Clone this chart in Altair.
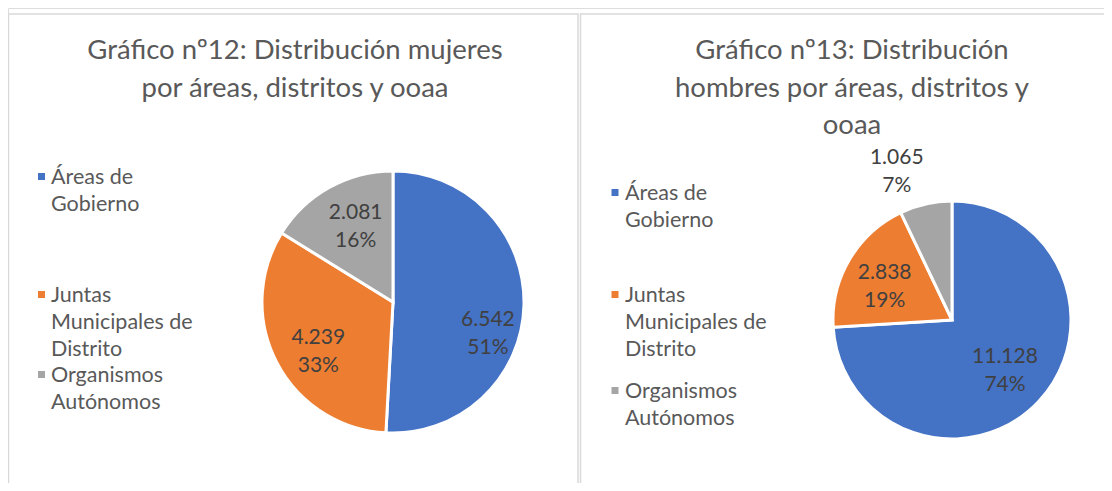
import altair as alt
import pandas as pd

# ---- data ----
panels = ["mujeres", "hombres"]
categories = ["Áreas de Gobierno", "Juntas Municipales de Distrito", "Organismos Autónomos"]
legend_labels = ["Áreas de\nGobierno", "Juntas\nMunicipales de\nDistrito", "Organismos\nAutónomos"]
mujeres = [6542, 4239, 2081]
hombres = [11128, 2838, 1065]
titles = ["Gráfico nº12: Distribución mujeres\npor áreas, distritos y ooaa",
          "Gráfico nº13: Distribución\nhombres por áreas, distritos y\nooaa"]
colors = ["#4472C4", "#ED7D31", "#A5A5A5"]

rows = []
for panel, vals in zip(panels, [mujeres, hombres]):
    total = sum(vals)
    for i, (c, v) in enumerate(zip(categories, vals)):
        lab = f"{v:,}".replace(",", ".") + "\n" + f"{round(100 * v / total)}%"
        rows.append({"panel": panel, "cat": c, "idx": i, "value": v, "label": lab})
df = pd.DataFrame(rows)
tdf = pd.DataFrame({"panel": panels, "title": titles})
ldf = pd.DataFrame({"cat": categories, "legend": legend_labels})

FONT = "Lato"
TXT = "#595959"
LBL = "#404040"

color = alt.Color("cat:N", scale=alt.Scale(domain=categories, range=colors), legend=None)

layers = []

# panel borders
for x1, x2 in [(0.5, 570), (572.5, 1110)]:
    layers.append(
        alt.Chart(tdf.head(1)).mark_rect(fill=None, stroke="#D9D9D9", strokeWidth=1.5).encode(
            x=alt.value(x1), x2=alt.value(x2), y=alt.value(6), y2=alt.value(495)
        )
    )

# titles (y = centre of the first line)
title_pos = {"mujeres": (287, 43, 38), "hombres": (844, 43, 37.5)}
for p in panels:
    x, y, lh = title_pos[p]
    layers.append(
        alt.Chart(tdf).transform_filter(alt.datum.panel == p).mark_text(
            font=FONT, fontSize=27.5, color=TXT, align="center", baseline="middle",
            lineBreak="\n", lineHeight=lh
        ).encode(text="title:N", x=alt.value(x), y=alt.value(y))
    )

# pies
pie_pos = {"mujeres": (385, 294, 131), "hombres": (944, 312, 119)}
for p in panels:
    cx, cy, r = pie_pos[p]
    layers.append(
        alt.Chart(df).transform_filter(alt.datum.panel == p).mark_arc(
            radius=r, stroke="white", strokeWidth=3
        ).encode(
            theta=alt.Theta("value:Q", stack=True),
            order=alt.Order("idx:Q"),
            color=color,
            x=alt.value(cx), y=alt.value(cy),
        )
    )

# data labels (per slice: radius, dx, dy)
label_pos = {
    "mujeres": [(94, 1, 15), (82, -2, -2), (87, 5, -13)],
    "hombres": [(70, 2, -11), (70, -7, -11.5), (155, -21, -11)],
}
for p in panels:
    cx, cy, _ = pie_pos[p]
    for i, c in enumerate(categories):
        r, dx, dy = label_pos[p][i]
        layers.append(
            alt.Chart(df).transform_filter(alt.datum.panel == p).transform_calculate(
                t=f"datum.cat === '{c}' ? datum.label : ''"
            ).mark_text(
                radius=r, dx=dx, dy=dy, font=FONT, fontSize=21, color=LBL,
                align="center", baseline="middle", lineBreak="\n", lineHeight=28
            ).encode(
                theta=alt.Theta("value:Q", stack=True),
                order=alt.Order("idx:Q"),
                text="t:N",
                x=alt.value(cx), y=alt.value(cy),
            )
        )

# legends
legend_pos = {
    "mujeres": (33.5, 43, [170, 288, 368]),
    "hombres": (607, 617, [186, 288, 384]),
}
LH = 27
for p in panels:
    sx, tx, ys = legend_pos[p]
    for i, c in enumerate(categories):
        layers.append(
            alt.Chart(ldf).transform_filter(alt.datum.cat == c).mark_square(
                size=49, opacity=1
            ).encode(color=color, x=alt.value(sx), y=alt.value(ys[i] - 1.5))
        )
        layers.append(
            alt.Chart(ldf).transform_filter(alt.datum.cat == c).mark_text(
                font=FONT, fontSize=21.5, color=TXT, align="left", baseline="middle",
                lineBreak="\n", lineHeight=LH
            ).encode(text="legend:N", x=alt.value(tx), y=alt.value(ys[i]))
        )

chart = alt.layer(*layers).resolve_scale(theta="independent").properties(
    width=1096, height=475, padding=0, autosize=alt.AutoSizeParams(type="none")
).configure_view(stroke=None).configure(background="white")

chart.save("out.html", embed_options={"renderer": "svg", "actions": False})
